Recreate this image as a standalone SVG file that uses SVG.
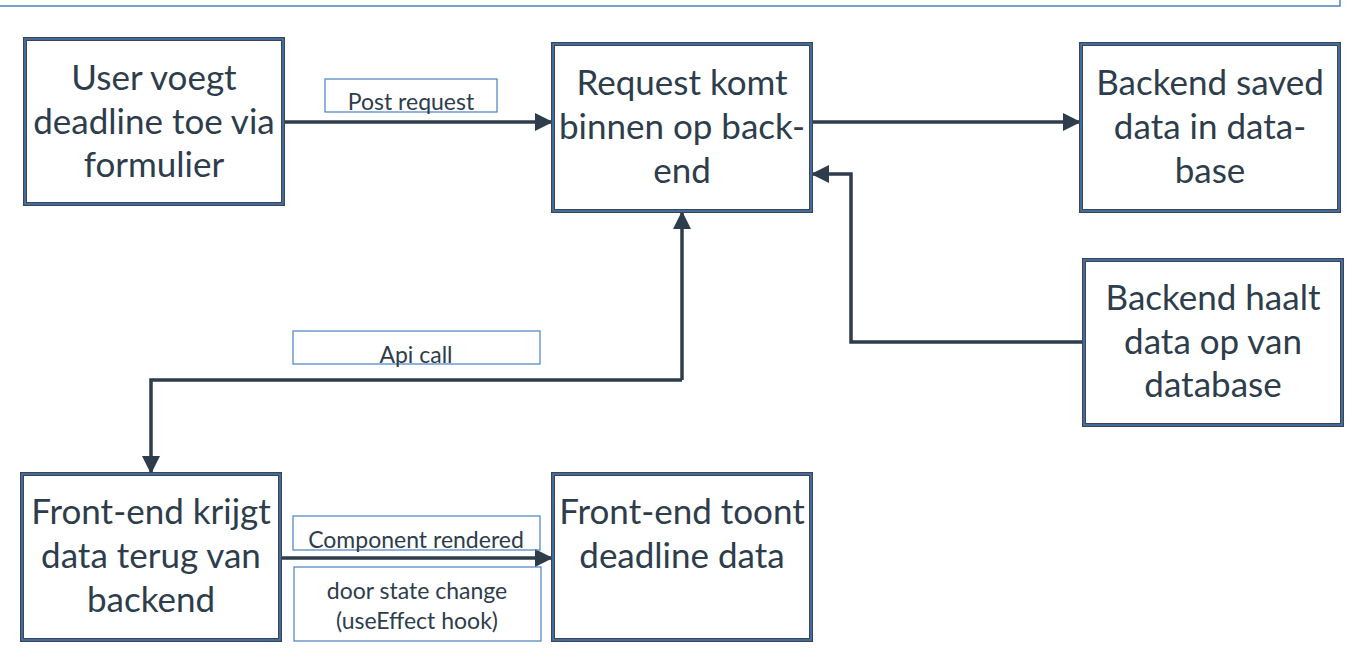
<svg xmlns="http://www.w3.org/2000/svg" width="1362" height="670" viewBox="0 0 1362 670">
<defs>
<style>
.box{fill:#fff;stroke:#3a4654;stroke-width:4}
.inner{fill:none;stroke:#4a80c0;stroke-width:1.3}
.nt{font-family:Lato,"Open Sans",sans-serif;font-size:35px;fill:#2e3d4c;text-anchor:middle}
.lb{fill:none;stroke:#4a80c0;stroke-width:1.2}
.lt{font-family:Lato,"Open Sans",sans-serif;font-size:23px;fill:#2e3d4c;text-anchor:middle}
.c{fill:none;stroke:#2e3d4c;stroke-width:3.5;stroke-linejoin:miter}
</style>
<marker id="ah" markerUnits="userSpaceOnUse" markerWidth="22" markerHeight="22" viewBox="0 0 22 22" refX="20" refY="11" orient="auto">
<path d="M2,2 L20,11 L2,20 Z" fill="#2e3d4c"/>
</marker>
</defs>
<rect x="-2" y="-2" width="1342" height="8" fill="none" stroke="#4a80c0" stroke-width="1.5"/>

<g id="connectors">
<path class="c" d="M283,122 H553" marker-end="url(#ah)"/>
<path class="c" d="M811,122 H1081" marker-end="url(#ah)"/>
<path class="c" d="M1084,342 H851 V174 H811" marker-end="url(#ah)"/>
<path class="c" d="M682,380 V211" marker-end="url(#ah)"/>
<path class="c" d="M682,380 H151 V474" marker-end="url(#ah)"/>
<path class="c" d="M280,558 H553" marker-end="url(#ah)"/>
</g>

<g id="label-post">
<rect class="lb" x="325" y="79" width="172" height="33"/>
<text class="lt" x="411" y="110">Post request</text>
</g>
<g id="label-api">
<rect class="lb" x="293" y="331" width="247" height="33"/>
<text class="lt" x="416" y="363">Api call</text>
</g>
<g id="label-component">
<rect class="lb" x="293" y="516" width="247" height="34"/>
<text class="lt" x="416" y="548">Component rendered</text>
</g>
<g id="label-door">
<rect class="lb" x="294" y="567" width="247" height="74"/>
<text class="lt" x="417" y="599">door state change</text>
<text class="lt" x="417" y="629">(useEffect hook)</text>
</g>

<g id="n1">
<rect class="box" x="25" y="39" width="258" height="165"/>
<rect class="inner" x="25" y="39" width="258" height="165"/>
<text class="nt" x="154" y="90">User voegt</text>
<text class="nt" x="154" y="134">deadline toe via</text>
<text class="nt" x="154" y="177">formulier</text>
</g>
<g id="n2">
<rect class="box" x="553" y="44" width="258" height="167"/>
<rect class="inner" x="553" y="44" width="258" height="167"/>
<text class="nt" x="682" y="95">Request komt</text>
<text class="nt" x="682" y="139">binnen op back-</text>
<text class="nt" x="682" y="183">end</text>
</g>
<g id="n3">
<rect class="box" x="1081" y="44" width="258" height="167"/>
<rect class="inner" x="1081" y="44" width="258" height="167"/>
<text class="nt" x="1210" y="95">Backend saved</text>
<text class="nt" x="1210" y="139">data in data-</text>
<text class="nt" x="1210" y="183">base</text>
</g>
<g id="n4">
<rect class="box" x="1084" y="260" width="258" height="165"/>
<rect class="inner" x="1084" y="260" width="258" height="165"/>
<text class="nt" x="1213" y="310">Backend haalt</text>
<text class="nt" x="1213" y="354">data op van</text>
<text class="nt" x="1213" y="397">database</text>
</g>
<g id="n5">
<rect class="box" x="22" y="474" width="258" height="166"/>
<rect class="inner" x="22" y="474" width="258" height="166"/>
<text class="nt" x="151" y="524">Front-end krijgt</text>
<text class="nt" x="151" y="568">data terug van</text>
<text class="nt" x="151" y="612">backend</text>
</g>
<g id="n6">
<rect class="box" x="553" y="474" width="258" height="166"/>
<rect class="inner" x="553" y="474" width="258" height="166"/>
<text class="nt" x="682" y="524">Front-end toont</text>
<text class="nt" x="682" y="568">deadline data</text>
</g>
</svg>
